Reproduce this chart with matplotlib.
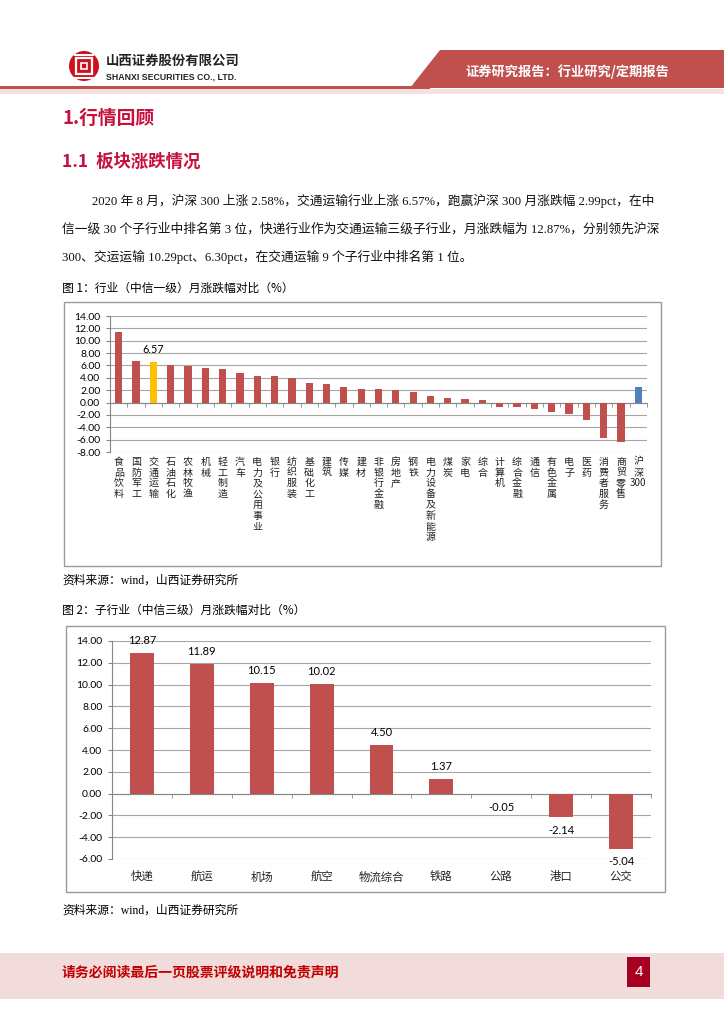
import numpy as np
import matplotlib
matplotlib.use("Agg")
import matplotlib.pyplot as plt
from matplotlib.patches import Rectangle, Polygon, Circle

plt.rcParams['font.family'] = ['Noto Sans CJK SC', 'DejaVu Sans']

# 图1: 中信一级行业 8月涨跌幅 (%)
ind_names = ['食品饮料', '国防军工', '交通运输', '石油石化', '农林牧渔', '机械', '轻工制造',
             '汽车', '电力及公用事业', '银行', '纺织服装', '基础化工', '建筑', '传媒', '建材',
             '非银行金融', '房地产', '钢铁', '电力设备及新能源', '煤炭', '家电', '综合',
             '计算机', '综合金融', '通信', '有色金属', '电子', '医药', '消费者服务',
             '商贸零售', '沪深300']
ind_chg = [11.40, 6.68, 6.57, 6.03, 5.92, 5.64, 5.48, 4.77, 4.33, 4.22, 4.05, 3.18, 3.01,
           2.47, 2.19, 2.19, 1.97, 1.64, 1.04, 0.77, 0.55, 0.38, -0.66, -0.66, -1.04,
           -1.53, -1.86, -2.90, -5.70, -6.41, 2.58]
ind_labeled = ['交通运输']

# 图2: 交通运输中信三级子行业 8月涨跌幅 (%)
sub_names = ['快递', '航运', '机场', '航空', '物流综合', '铁路', '公路', '港口', '公交']
sub_chg = [12.87, 11.89, 10.15, 10.02, 4.50, 1.37, -0.05, -2.14, -5.04]

para_lines = [
    '2020 年 8 月，沪深 300 上涨 2.58%，交通运输行业上涨 6.57%，跑赢沪深 300 月涨跌幅 2.99pct，在中',
    '信一级 30 个子行业中排名第 3 位，快递行业作为交通运输三级子行业，月涨跌幅为 12.87%，分别领先沪深',
    '300、交运运输 10.29pct、6.30pct，在交通运输 9 个子行业中排名第 1 位。',
]

W, H = 724, 1024
bar_red = '#C0504D'
head_red = '#C8103C'
grid_c = '#A6A6A6'
axis_c = '#868686'
serif_cjk = ['Liberation Serif', 'Noto Sans CJK SC']
num_font = ['Lato', 'Noto Sans CJK SC']

fig = plt.figure(figsize=(7.24, 10.24), dpi=100)


def fx(x):
    return x / W


def fy(y):
    return 1 - y / H


def pin(x, y):
    # pixel (top-left origin) -> inches for dpi_scale_trans
    return (x / 100, (H - y) / 100)


def ax_rect(l, t, r, b):
    return [fx(l), fy(b), (r - l) / W, (b - t) / H]


def add_rect(l, t, r, b, **kw):
    x0, y0 = pin(l, b)
    fig.add_artist(Rectangle((x0, y0), (r - l) / 100, (b - t) / 100,
                             transform=fig.dpi_scale_trans, **kw))


# ---- header
fig.add_artist(Polygon([pin(440, 50), pin(724, 50), pin(724, 88), pin(410, 88)],
                       closed=True, transform=fig.dpi_scale_trans, fc=bar_red, ec='none'))
add_rect(0, 86, 430, 89, fc=bar_red, ec='none')
add_rect(0, 89, 724, 94, fc='#F4E1E0', ec='none')
fig.text(fx(567), fy(72), '证券研究报告：行业研究/定期报告', color='white', fontsize=9.5,
         fontweight='bold', ha='center', va='center')

# logo
fig.add_artist(Circle(pin(84, 66), 0.15, transform=fig.dpi_scale_trans, fc='#D0101E', ec='none'))
add_rect(76, 58, 92, 74, fc='none', ec='white', lw=1.6)
add_rect(81, 63, 87, 69, fc='#D0101E', ec='white', lw=1.2)
add_rect(74, 54, 94, 55.5, fc='white', ec='none')
add_rect(74, 77, 94, 78.5, fc='white', ec='none')
fig.text(fx(106), fy(61), '山西证券股份有限公司', fontsize=9.6, fontweight='bold',
         color='#222222', va='center')
fig.text(fx(106), fy(77), 'SHANXI SECURITIES CO., LTD.', fontsize=6.3, fontweight='bold',
         family=['Liberation Sans'], color='#222222', va='center')

# ---- headings and text
fig.text(fx(62), fy(118), '1.行情回顾', fontsize=13.5, fontweight='bold', color=head_red,
         va='center')
fig.text(fx(62), fy(162), '1.1  板块涨跌情况', fontsize=12.5, fontweight='bold',
         color=head_red, va='center')
for i, line in enumerate(para_lines):
    x0 = 92 if i == 0 else 62
    fig.text(fx(x0), fy(201 + 28 * i), line, fontsize=9.2, family=serif_cjk, va='center',
             color='#111111')

fig.text(fx(62), fy(288), '图 1：行业（中信一级）月涨跌幅对比（%）', fontsize=8.5, va='center')
fig.text(fx(62), fy(581), '资料来源：wind，山西证券研究所', fontsize=8.5, family=serif_cjk,
         va='center')
fig.text(fx(62), fy(610), '图 2：子行业（中信三级）月涨跌幅对比（%）', fontsize=8.5, va='center')
fig.text(fx(62), fy(911), '资料来源：wind，山西证券研究所', fontsize=8.5, family=serif_cjk,
         va='center')

# chart frames
add_rect(64, 302, 661, 566, fc='none', ec='#9A9A9A', lw=1.0)
add_rect(66, 626, 665, 892, fc='none', ec='#9A9A9A', lw=1.0)


def style_axes(ax, lo, hi, pad_lbl):
    ax.set_ylim(lo, hi)
    ticks = np.arange(lo, hi + 1, 2)
    ax.set_yticks(ticks, [f'{v:.2f}' for v in ticks], family=num_font, fontsize=7.5)
    ax.grid(axis='y', color=grid_c, lw=0.8)
    ax.set_axisbelow(True)
    for s in ['top', 'right']:
        ax.spines[s].set_visible(False)
    ax.spines['left'].set_color(axis_c)
    ax.spines['bottom'].set_position(('data', 0))
    ax.spines['bottom'].set_color(axis_c)
    ax.tick_params(axis='y', length=3, color=axis_c, pad=4)
    ax.tick_params(axis='x', which='major', length=0, pad=pad_lbl)
    ax.tick_params(axis='x', which='minor', length=3, color=axis_c)


# ---- chart 1
ax1 = fig.add_axes(ax_rect(110, 316, 647, 452))
x1 = np.arange(len(ind_names))
colors1 = []
for name in ind_names:
    if name == '交通运输':
        colors1.append('#FFC000')
    elif name == '沪深300':
        colors1.append('#4F81BD')
    else:
        colors1.append(bar_red)
ax1.bar(x1, ind_chg, width=0.42, color=colors1, zorder=3)
ax1.set_xlim(-0.5, len(ind_names) - 0.5)
style_axes(ax1, -8, 14, 39)


def stack_label(name):
    parts, buf = [], ''
    for ch in name:
        if ch.isascii():
            buf += ch
        else:
            if buf:
                parts.append(buf)
                buf = ''
            parts.append(ch)
    if buf:
        parts.append(buf)
    return '\n'.join(parts)


ax1.set_xticks(x1, [stack_label(n) for n in ind_names], fontsize=7.2, linespacing=1.1,
               color='#222222')
ax1.set_xticks(np.arange(-0.5, len(ind_names), 1), minor=True)
for i, (name, v) in enumerate(zip(ind_names, ind_chg)):
    if name in ind_labeled:
        ax1.annotate(f'{v:.2f}', xy=(i, v), xytext=(0, 9), textcoords='offset points',
                     ha='center', va='center', fontsize=7.8, family=num_font)

# ---- chart 2
ax2 = fig.add_axes(ax_rect(112, 641, 651, 859))
x2 = np.arange(len(sub_names))
ax2.bar(x2, sub_chg, width=0.4, color=bar_red, zorder=3)
ax2.set_xlim(-0.5, len(sub_names) - 0.5)
style_axes(ax2, -6, 14, 56)
ax2.set_xticks(x2, sub_names, fontsize=8.2, color='#222222')
ax2.set_xticks(np.arange(-0.5, len(sub_names), 1), minor=True)
for i, v in enumerate(sub_chg):
    off = 9 if v >= 0 else -9.5
    ax2.annotate(f'{v:.2f}', xy=(i, v), xytext=(0, off), textcoords='offset points',
                 ha='center', va='center', fontsize=8, family=num_font)

# ---- footer
add_rect(0, 953, 724, 999, fc='#F2DCDB', ec='none')
fig.text(fx(62), fy(972), '请务必阅读最后一页股票评级说明和免责声明', fontsize=10,
         fontweight='bold', color='#C00000', va='center')
add_rect(627, 957, 650, 987, fc='#A50021', ec='none')
fig.text(fx(638.5), fy(972), '4', fontsize=11, color='white', ha='center', va='center',
         family=['Liberation Sans'])

fig.savefig('out.png', dpi=100)
